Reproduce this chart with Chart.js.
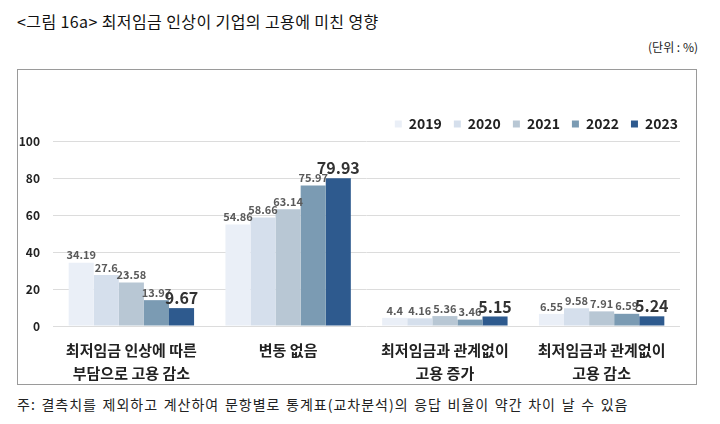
<!DOCTYPE html>
<html>
<head>
<meta charset="utf-8">
<script src="https://cdn.jsdelivr.net/npm/chart.js@4.4.0/dist/chart.umd.min.js"></script>
<style>
  body { margin: 0; background: #fff; font-family: "Noto Sans CJK KR", sans-serif; }
  #page { position: relative; width: 720px; height: 424px; overflow: hidden; }
  #title { position: absolute; left: 17px; top: 9px; font-size: 16px; letter-spacing: 0.4px; color: #111; }
  #unit { position: absolute; right: 22px; top: 38px; font-size: 12px; color: #222; }
  #box { position: absolute; left: 17px; top: 69px; width: 680px; height: 316px; border: 1px solid #9a9a9a; box-sizing: border-box; }
  #chart { position: absolute; left: 0; top: 0; }
  #note { position: absolute; left: 17px; top: 394px; font-size: 14px; letter-spacing: 1px; word-spacing: 1.5px; color: #222; }
</style>
</head>
<body>
<div id="page">
  <div id="title">&lt;그림 16a&gt; 최저임금 인상이 기업의 고용에 미친 영향</div>
  <div id="unit">(단위 : %)</div>
  <div id="box"><canvas id="chart" width="678" height="314"></canvas></div>
  <div id="note">주: 결측치를 제외하고 계산하여 문항별로 통계표(교차분석)의 응답 비율이 약간 차이 날 수 있음</div>
</div>
<script>
  const categories = [
    ['최저임금 인상에 따른', '부담으로 고용 감소'],
    ['변동 없음'],
    ['최저임금과 관계없이', '고용 증가'],
    ['최저임금과 관계없이', '고용 감소']
  ];
  const years = ['2019', '2020', '2021', '2022', '2023'];
  const v2019 = [34.19, 54.86, 4.4, 6.55];
  const v2020 = [27.6, 58.66, 4.16, 9.58];
  const v2021 = [23.58, 63.14, 5.36, 7.91];
  const v2022 = [13.97, 75.97, 3.46, 6.59];
  const v2023 = [9.67, 79.93, 5.15, 5.24];
  const yTicks = [0, 20, 40, 60, 80, 100];

  const colors = ['#eaeff7', '#d5dfec', '#b8c7d4', '#7b9bb3', '#2e5a8e'];
  const series = [v2019, v2020, v2021, v2022, v2023];

  // value labels above each bar; the latest year is bigger and bold
  const valueLabels = {
    id: 'valueLabels',
    afterDatasetsDraw(chart) {
      const ctx = chart.ctx;
      ctx.save();
      ctx.textAlign = 'center';
      ctx.textBaseline = 'bottom';
      chart.data.datasets.forEach((ds, i) => {
        const last = i === chart.data.datasets.length - 1;
        ctx.font = last ? 'bold 16px "Noto Sans CJK KR"' : 'bold 11px "Noto Sans CJK KR"';
        ctx.fillStyle = last ? '#333' : '#5a5a5a';
        chart.getDatasetMeta(i).data.forEach((bar, j) => {
          ctx.fillText(String(ds.data[j]), bar.x, bar.y - 2);
        });
      });
      ctx.restore();
    }
  };

  // push the legend a little to the right, past the padding
  const legendShift = {
    id: 'legendShift',
    afterLayout(chart) {
      chart.legend.left += 10;
      chart.legend.right += 10;
    }
  };

  new Chart(document.getElementById('chart'), {
    type: 'bar',
    data: {
      labels: categories,
      datasets: years.map((y, i) => ({
        label: y,
        data: series[i],
        backgroundColor: colors[i],
        borderWidth: 0,
        categoryPercentage: 0.8,
        barPercentage: 1.0
      }))
    },
    options: {
      responsive: false,
      animation: false,
      layout: { padding: { top: 35, right: 16, left: 0, bottom: 0 } },
      plugins: {
        legend: {
          position: 'top',
          align: 'end',
          labels: {
            boxWidth: 7, boxHeight: 7, padding: 12,
            color: '#222',
            font: { family: 'Noto Sans CJK KR', size: 14, weight: 'bold' }
          }
        },
        tooltip: { enabled: false }
      },
      scales: {
        x: {
          afterFit(axis) { axis.height = 58; },
          grid: { display: false },
          border: { display: false },
          ticks: {
            color: '#222',
            padding: 5,
            font: { family: 'Noto Sans CJK KR', size: 15, weight: 'bold', lineHeight: 1.53 }
          }
        },
        y: {
          min: 0, max: 100,
          afterFit(axis) { axis.width = 35; },
          afterBuildTicks(axis) { axis.ticks = yTicks.map(v => ({ value: v })); },
          grid: { color: '#dcdcdc', drawTicks: false },
          border: { display: false },
          ticks: {
            color: '#222',
            padding: 13,
            font: { family: 'Noto Sans CJK KR', size: 12, weight: 'bold' }
          }
        }
      }
    },
    plugins: [valueLabels, legendShift]
  });
</script>
</body>
</html>
